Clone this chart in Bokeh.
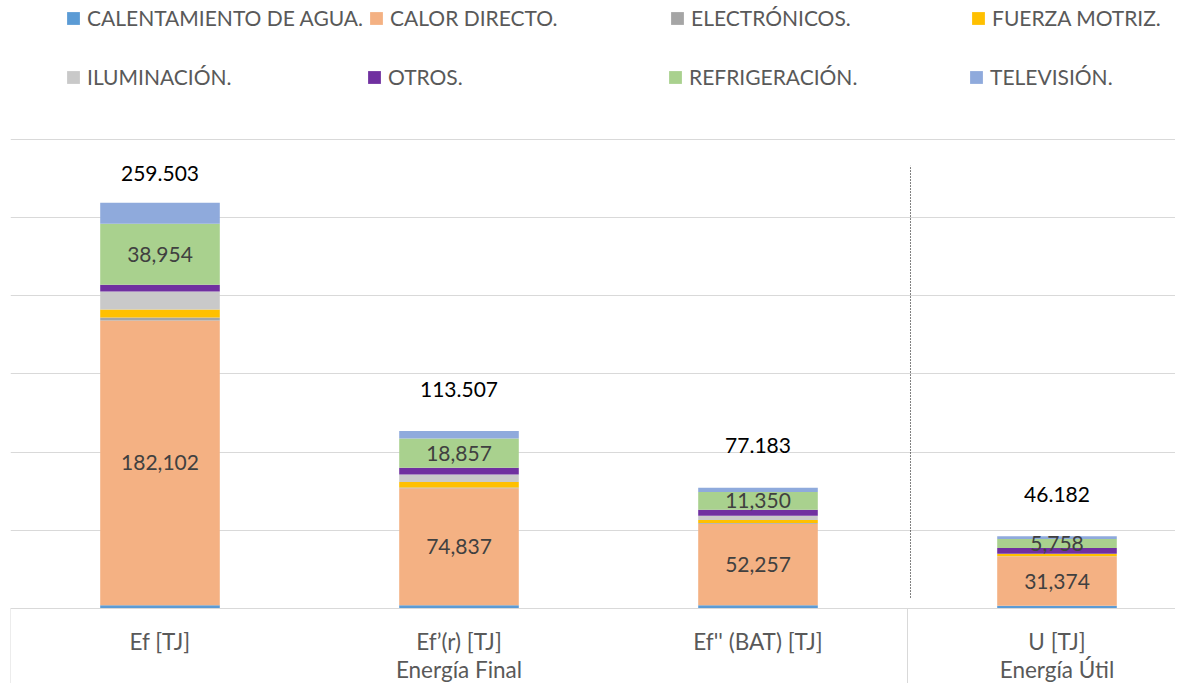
from bokeh.plotting import figure
from bokeh.models import (ColumnDataSource, Range1d, LinearAxis, FixedTicker, Grid,
                          Legend, LegendItem)
from bokeh.core.properties import value
from bokeh.embed import file_html
from bokeh.resources import INLINE

# ---------------- data ----------------
categories = ["Ef [TJ]", "Ef\u2019(r) [TJ]", "Ef'' (BAT) [TJ]", "U [TJ]"]
groups = ["Energía Final", "Energía Útil"]
group_sizes = [3, 1]

series = ["CALENTAMIENTO DE AGUA.", "CALOR DIRECTO.", "ELECTRÓNICOS.", "FUERZA MOTRIZ.",
          "ILUMINACIÓN.", "OTROS.", "REFRIGERACIÓN.", "TELEVISIÓN."]
calentamiento = [2.1, 2.0, 2.0, 1.8]
calor = [182.102, 74.837, 52.257, 31.374]
electronicos = [2.0, 0.6, 0.4, 0.2]
fuerza = [5.1, 3.4, 1.9, 1.4]
iluminacion = [11.5, 4.9, 2.8, 0.3]
otros = [4.3, 4.2, 3.8, 3.6]
refrigeracion = [38.954, 18.857, 11.350, 5.758]
television = [13.447, 4.713, 2.676, 1.750]
totals = [259.503, 113.507, 77.183, 46.182]
grid_ticks = [0, 50, 100, 150, 200, 250, 300]

# ---------------- styles ----------------
colors = ["#5B9BD5", "#F4B183", "#A5A5A5", "#FFC000", "#C9C9C9", "#7030A0", "#A9D18E", "#8FAADC"]
total_offsets = [-29, -42, -42, -42]
FONT = "Lato"
FS = "21px"
AXFS = "22.5px"

keys = ["s%d" % i for i in range(len(series))]
values = [calentamiento, calor, electronicos, fuerza, iluminacion, otros, refrigeracion, television]
xs = [i + 0.5 for i in range(len(categories))]
data = {"x": xs}
for k, v in zip(keys, values):
    data[k] = v
src = ColumnDataSource(data)

p = figure(width=1175, height=683, x_range=Range1d(0, 1165 / 299), y_range=Range1d(-48.0, 388.9),
           x_axis_location=None, y_axis_location=None, toolbar_location=None,
           output_backend="svg", min_border_left=10, min_border_right=0,
           min_border_top=0, min_border_bottom=0)
p.outline_line_color = None
p.grid.visible = False
p.add_layout(Grid(dimension=1, ticker=FixedTicker(ticks=grid_ticks),
                  grid_line_color="#D9D9D9", grid_line_width=1))

rs = p.vbar_stack(keys, x="x", width=0.4, source=src, fill_color=colors, line_color=None)

# segment labels (calor, refrigeracion)
calor_mid = [a + b / 2 for a, b in zip(calentamiento, calor)]
below_ref = [sum(v[i] for v in values[:6]) for i in range(len(categories))]
ref_mid = [b + r / 2 for b, r in zip(below_ref, refrigeracion)]
fmt = lambda v: ("%.3f" % v).replace(".", ",")
lab_src = ColumnDataSource(dict(x=xs + xs, y=calor_mid + ref_mid,
                                t=[fmt(v) for v in calor] + [fmt(v) for v in refrigeracion]))
p.text(x="x", y="y", text="t", source=lab_src, text_align="center", text_baseline="middle",
       text_font=value(FONT), text_font_size=FS, text_color="#404040")

tot_src = ColumnDataSource(dict(x=xs, y=totals, t=["%.3f" % v for v in totals], off=total_offsets))
p.text(x="x", y="y", text="t", y_offset="off", source=tot_src, text_align="center",
       text_baseline="middle", text_font=value(FONT), text_font_size=FS, text_color="#000000")

# dotted separator between groups
sep_x = group_sizes[0] + 0.01
p.segment(x0=[sep_x], y0=[7], x1=[sep_x], y1=[283.4], line_color="black",
          line_width=1, line_dash="1 2")

# legends (two rows)
def make_legend(idx, loc):
    items = [LegendItem(label=series[i], renderers=[rs[i]]) for i in idx]
    return Legend(items=items, orientation="horizontal", location=loc,
                  glyph_width=16, glyph_height=16, label_standoff=6, label_width=274,
                  label_height=22, spacing=5, padding=0, margin=0,
                  border_line_color=None, background_fill_alpha=0,
                  label_text_font=FONT, label_text_font_size=FS, label_text_color="#595959")

p.add_layout(make_legend([0, 1, 2, 3], (55, 653)))
p.add_layout(make_legend([4, 5, 6, 7], (55, 594)))

# category axis (fixed at the baseline)
bounds = [0]
for g in group_sizes:
    bounds.append(bounds[-1] + g)
ax_cat = LinearAxis(ticker=FixedTicker(ticks=xs, minor_ticks=[]), fixed_location=0,
                    major_label_overrides={x: c for x, c in zip(xs, categories)},
                    axis_line_color="#D9D9D9", major_tick_line_color=None, major_tick_out=0,
                    major_tick_in=0, minor_tick_line_color=None, minor_tick_out=0,
                    minor_tick_in=0, major_label_standoff=20,
                    major_label_text_font=FONT, major_label_text_font_size=AXFS,
                    major_label_text_color="#595959")
p.add_layout(ax_cat, "below")

# group axis, its minor ticks draw the table separators
gcent = [(bounds[i] + bounds[i + 1]) / 2 for i in range(len(groups))]
ax_grp = LinearAxis(ticker=FixedTicker(ticks=gcent, minor_ticks=bounds), fixed_location=0,
                    major_label_overrides={x: g for x, g in zip(gcent, groups)},
                    axis_line_color=None, major_tick_line_color=None, major_tick_out=0,
                    major_tick_in=0, minor_tick_line_color="#D9D9D9", minor_tick_in=0,
                    minor_tick_out=85, major_label_standoff=-37,
                    major_label_text_font=FONT, major_label_text_font_size=AXFS,
                    major_label_text_color="#595959")
p.add_layout(ax_grp, "below")

open("out.html", "w").write(file_html(p, INLINE))
